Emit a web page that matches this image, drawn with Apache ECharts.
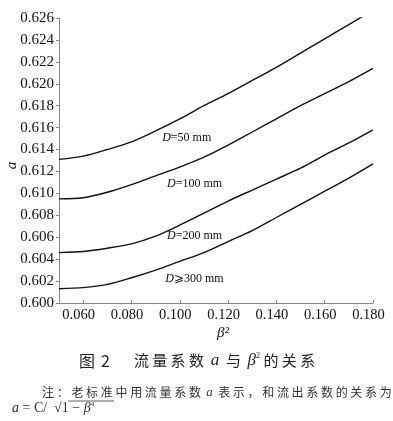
<!DOCTYPE html>
<html><head><meta charset="utf-8">
<script src="https://cdn.jsdelivr.net/npm/echarts@6/dist/echarts.min.js"></script>
<style>html,body{margin:0;padding:0;background:#fff}#c{width:393px;height:421px}</style>
</head><body><div id="c"></div>
<script>
const betaSq = [0.05,0.06,0.07,0.08,0.09,0.10,0.11,0.12,0.13,0.14,0.15,0.16,0.17,0.18];
const d50  = [0.6131,0.6134,0.6140,0.6147,0.6157,0.6168,0.6180,0.6191,0.6203,0.6215,0.6228,0.6241,0.6254,0.6267];
const d100 = [0.6095,0.6096,0.6101,0.6108,0.6116,0.6124,0.6133,0.6144,0.6156,0.6168,0.6180,0.6191,0.6202,0.6214];
const d200 = [0.6046,0.6047,0.6050,0.6054,0.6061,0.6071,0.6082,0.6093,0.6103,0.6113,0.6123,0.6135,0.6146,0.6158];
const d300 = [0.6013,0.6014,0.6017,0.6023,0.6030,0.6038,0.6046,0.6056,0.6066,0.6078,0.6090,0.6102,0.6114,0.6127];
const seriesNames = ['=50 mm','=100 mm','=200 mm','⩾300 mm'];
const labelAt = [[0.0927,0.6151],[0.0947,0.6109],[0.0947,0.6061],[0.0940,0.6022]];
const xTicks = [0.06,0.08,0.10,0.12,0.14,0.16,0.18];

const serif = '"Liberation Serif","Times New Roman",serif';
const cjk = '"Noto Sans CJK SC"';
const all = [d50,d100,d200,d300];
const chart = echarts.init(document.getElementById('c'));
chart.setOption({
  animation:false,
  grid:{left:59,right:20,top:18,bottom:118,outerBoundsMode:'none',containLabel:false},
  xAxis:{type:'value',min:0.05,max:0.18,
    axisLine:{lineStyle:{color:'#888',width:1}},
    axisTick:{show:true,inside:true,length:3,customValues:xTicks,lineStyle:{color:'#888'}},
    axisLabel:{customValues:xTicks,formatter:v=>v.toFixed(3),color:'#111',fontFamily:serif,fontSize:14.5,margin:5,padding:[0,9,0,0]},
    splitLine:{show:false},
    name:'β²',nameLocation:'middle',nameGap:23,nameMoveOverlap:false,
    nameTextStyle:{fontFamily:serif,fontStyle:'italic',fontSize:15,color:'#111',padding:[0,0,0,14]}
  },
  yAxis:{type:'value',min:0.600,max:0.626,interval:0.002,
    axisLine:{show:true,lineStyle:{color:'#888',width:1}},
    axisTick:{show:true,length:3,lineStyle:{color:'#888'}},
    axisLabel:{formatter:v=>v.toFixed(3),color:'#111',fontFamily:serif,fontSize:15,margin:5},
    splitLine:{show:false},
    name:'a',nameLocation:'middle',nameGap:39,nameMoveOverlap:false,
    nameTextStyle:{fontFamily:serif,fontStyle:'italic',fontSize:15,color:'#111',padding:[0,0,0,-10]}
  },
  series: all.map((arr,i)=>({
    type:'line',smooth:0.3,showSymbol:false,clip:true,
    lineStyle:{color:'#111',width:1.4},
    data: betaSq.map((x,j)=>[x,arr[j]]),
    markPoint:{symbolSize:0,silent:true,
      data:[{coord:labelAt[i],
        label:{show:true,position:'right',distance:0,
          formatter:'{i|D}{n|'+seriesNames[i]+'}',
          rich:{i:{fontFamily:serif,fontStyle:'italic',fontSize:12,color:'#111'},
                n:{fontFamily:serif,fontSize:12,color:'#111'}}}}]}
  })),
  graphic:[
    {type:'text',left:79,top:352,style:{
      text:'{a|图}{g| }{a|2}{g2| }{c|流 量 系 数  }{i|a}{c|  与  }{i|β}{s|2}{c| 的 关 系}',
      rich:{a:{fontFamily:cjk,fontSize:16,fill:'#222'},
            g:{fontSize:16,width:6},
            g2:{fontSize:16,width:24},
            c:{fontFamily:cjk,fontSize:15,fill:'#222'},
            i:{fontFamily:serif,fontStyle:'italic',fontSize:17,fill:'#222'},
            s:{fontFamily:serif,fontSize:8,fill:'#222',verticalAlign:'top',padding:[0,0,9,0]}}}},
    {type:'text',left:42,top:386,style:{
      text:'{c|注 ： 老 标 准 中 用 流 量 系 数  }{i|a}{c|  表 示 ， 和 流 出 系 数 的 关 系 为}',
      rich:{c:{fontFamily:cjk,fontSize:12,fill:'#333'},
            i:{fontFamily:serif,fontStyle:'italic',fontSize:13,fill:'#333'}}}},
    {type:'text',left:12,top:401,style:{
      text:'{i|a}{c| = C/  √}{c|1 − }{i|β}{s|4}',
      rich:{c:{fontFamily:serif,fontSize:14,fill:'#333'},
            i:{fontFamily:serif,fontStyle:'italic',fontSize:14,fill:'#333'},
            s:{fontFamily:serif,fontSize:7,fill:'#333',verticalAlign:'top',padding:[0,0,6,0]}}}},
    {type:'line',shape:{x1:68,y1:401,x2:114,y2:401},style:{stroke:'#333',lineWidth:0.8}}
  ]
});
</script></body></html>
